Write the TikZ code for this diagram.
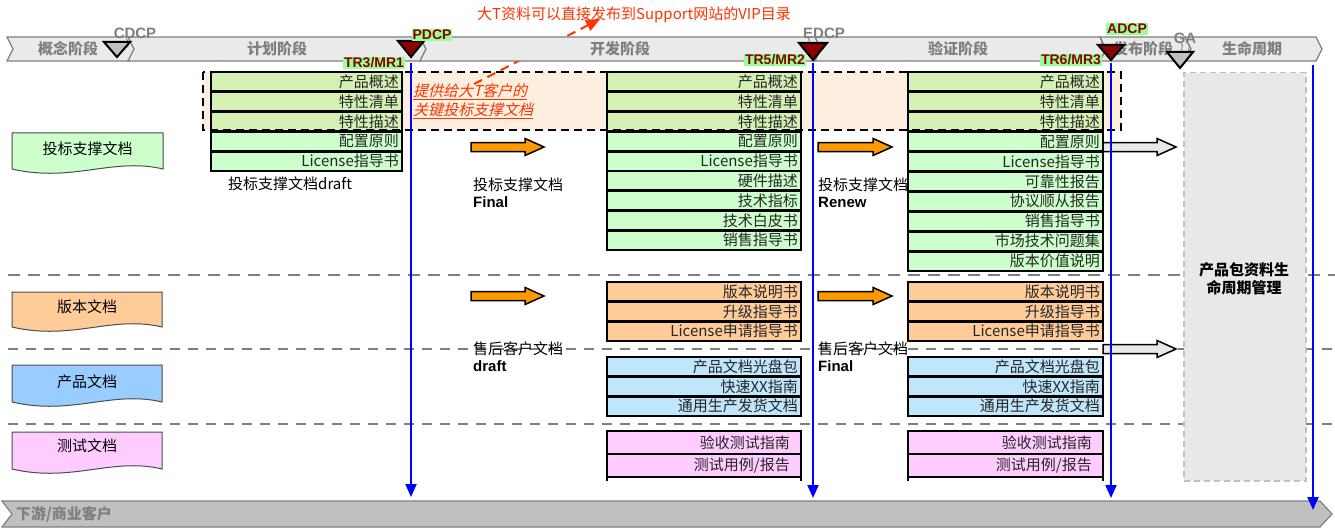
\documentclass[tikz,border=0pt]{standalone}
\usepackage{fontspec}
\setmainfont{Noto Sans CJK SC}
\newfontfamily\lat{Liberation Sans}
\newfontfamily\cjkit[FakeSlant=0.25]{Noto Sans CJK SC}
\usetikzlibrary{arrows.meta}
\definecolor{phasefill}{HTML}{EAEAEA}
\definecolor{phaseline}{HTML}{808080}
\definecolor{phasetext}{HTML}{7F7F7F}
\definecolor{dred}{HTML}{8B0000}
\definecolor{mkgreen}{HTML}{99FF99}
\definecolor{hlbg}{HTML}{FDEFDF}
\definecolor{tint}{HTML}{D5F0B3}
\definecolor{lgreen}{HTML}{CCFFCC}
\definecolor{lorange}{HTML}{FFCC99}
\definecolor{lblue}{HTML}{BFE6FB}
\definecolor{dblue}{HTML}{99CCFF}
\definecolor{lpink}{HTML}{FFCCFF}
\definecolor{arrorange}{HTML}{FF9900}
\definecolor{redtxt}{HTML}{FF3300}
\definecolor{lifegray}{HTML}{E8E8E8}
\definecolor{lifeline}{HTML}{C0C0C0}
\definecolor{barbottom}{HTML}{C0C0C0}
\definecolor{sepgray}{HTML}{808080}
\definecolor{bluel}{HTML}{0000FF}
\newcommand\fsz{\fontsize{15}{18}\selectfont}
\newcommand\fsm{\fontsize{14}{16}\selectfont}
\newcommand\fsg{\fontsize{15}{17}\selectfont}
\tikzset{
  sepline/.style={draw=sepgray, line width=2.5pt, dash pattern=on 12pt off 8pt},
  hlfill/.style={fill=hlbg},
  hlborder/.style={draw=black, line width=2pt, dash pattern=on 8pt off 5pt},
  docrow/.style={draw=black, line width=2.8pt, inner sep=0pt, outer sep=0pt},
  rowtext/.style={anchor=east, inner sep=0pt, font=\fsz, text=black!85},
  docshape/.style={draw=black!70, line width=1pt},
  doclabel/.style={inner sep=0pt, font=\fsz},
  plaintext/.style={inner sep=0pt, font=\fsz},
  boldlat/.style={inner sep=0pt, font=\lat\bfseries\fsg},
  phase/.style={fill=phasefill, draw=phaseline, line width=1.2pt},
  phasetxt/.style={inner sep=0pt, text=phasetext, font=\bfseries\fsz},
  tri/.style={draw=black, line width=2pt, line join=miter},
  mk/.style={fill=mkgreen, text=dred, font=\lat\bfseries\fsm, inner sep=1pt},
  mkgray/.style={text=phasetext, font=\lat\bfseries\fsg, inner sep=0pt},
  squig/.style={draw=phaseline, line width=0.8pt},
  blueline/.style={draw=bluel, line width=2pt, -{Triangle[width=11pt,length=13pt]}},
  reddash/.style={draw=redtxt, line width=2pt, dash pattern=on 9pt off 6pt, -{Triangle[width=12pt,length=14pt]}},
  orarrow/.style={fill=arrorange, draw=black, line width=1.5pt},
  grarrow/.style={fill=lifegray, draw=black, line width=1.5pt},
  lifebox/.style={fill=lifegray, draw=lifeline, line width=1.5pt, dash pattern=on 6pt off 4pt, inner sep=0pt},
  bar/.style={fill=barbottom, draw=phaseline, line width=1.2pt},
  redtext/.style={text=redtxt, inner sep=0pt, font=\fsz},
  hltext/.style={text=redtxt, inner sep=0pt, font=\cjkit\fsz},
}
% name, x0, x1, ytop, rowh, ntint, fill, padding, list
\newcommand\docstack[9]{%
  \foreach \t [count=\i from 0] in {#9} {
    \pgfmathsetmacro\ya{#4+\i*#5}
    \ifnum\i<#6 \def\fc{tint}\else\def\fc{#7}\fi
    \node[docrow, fill=\fc, minimum width={#3-#2}, minimum height=#5, anchor=north west] (#1\i) at (#2,\ya) {};
    \node[rowtext] (#1t\i) at ([xshift=-#8pt]#1\i.east) {\t};
  }}
% name, x0, x1, ytop, ybot, fill, text, label y
\newcommand\docshape[8]{%
  \draw[docshape, fill=#6] (#2,#4) -- (#3,#4) -- (#3,#5) .. controls ({#3-50},{#5-12}) and ({#2+60},{#5+14}) .. (#2,#5) -- cycle;
  \node[doclabel] (#1) at ({(#2+#3)/2},#8) {#7};}
\newcommand\chev[2]{%
  \draw[phase] (#1,37) -- ({#2-6},37) -- (#2,49) -- ({#2-6},61) -- (#1,61) -- ({#1+6},49) -- cycle;}
\newcommand\barrow[5]{%
  \draw[#5] (#1,{#4-4.5}) -- (#2,{#4-4.5}) -- (#2,{#4-8.5}) -- (#3,#4) -- (#2,{#4+8.5}) -- (#2,{#4+4.5}) -- (#1,{#4+4.5}) -- cycle;}
\begin{document}
\begin{tikzpicture}[x=1pt,y=-1pt]
\useasboundingbox (0,0) rectangle (1335,532);
\fill[white] (0,0) rectangle (1335,532);
% separators
\draw[sepline] (8,275) -- (1335,275);
\draw[sepline, line width=2pt, dash pattern=on 10pt off 8pt] (8,349) -- (1335,349);
\draw[sepline, line width=2pt, dash pattern=on 10pt off 8pt] (8,424) -- (1335,424);
% highlight box
\fill[hlfill] (203,72) rectangle (1121,130);
% left document shapes
\docshape{dA}{12}{163}{133}{169}{lgreen}{投标支撑文档}{149}
\docshape{dB}{12}{162}{292}{327}{lorange}{版本文档}{307}
\docshape{dC}{12}{162}{365}{402}{dblue}{产品文档}{382}
\docshape{dD}{12}{162}{432}{469}{lpink}{测试文档}{446}
% stacks
\docstack{ca}{211}{402}{72}{19.8}{3}{lgreen}{3}{产品概述,特性清单,特性描述,配置原则,License指导书}
\docstack{cb}{607}{801}{72}{19.78}{3}{lgreen}{3}{产品概述,特性清单,特性描述,配置原则,License指导书,硬件描述,技术指标,技术白皮书,销售指导书}
\docstack{cc}{908}{1103}{72}{19.9}{3}{lgreen}{3}{产品概述,特性清单,特性描述,配置原则,License指导书,可靠性报告,协议顺从报告,销售指导书,市场技术问题集,版本价值说明}
\docstack{oa}{607}{801}{282}{19.67}{0}{lorange}{3}{版本说明书,升级指导书,License申请指导书}
\docstack{ob}{908}{1103}{282}{19.67}{0}{lorange}{3}{版本说明书,升级指导书,License申请指导书}
\docstack{ba}{607}{801}{357}{19.67}{0}{lblue}{3}{产品文档光盘包,快速XX指南,通用生产发货文档}
\docstack{bb}{908}{1103}{357}{19.67}{0}{lblue}{3}{产品文档光盘包,快速XX指南,通用生产发货文档}
\docstack{pa}{607}{801}{431}{23}{0}{lpink}{11}{验收测试指南,测试用例/报告}
\docstack{pb}{908}{1103}{431}{23}{0}{lpink}{11}{验收测试指南,测试用例/报告}
\draw[line width=2.8pt] (607,481) -- (607,477) -- (801,477) -- (801,481);
\draw[line width=2.8pt] (908,481) -- (908,477) -- (1103,477) -- (1103,481);
% highlight border
\draw[hlborder] (203,72) rectangle (1121,130);
\node[hltext, anchor=west] (hl1) at (413,92) {\underline{提供给大T客户的}};
\node[hltext, anchor=west] (hl2) at (413,111) {\underline{关键投标支撑文档}};
% lifecycle box
\node[lifebox, minimum width=122, minimum height=408, anchor=north west] (life) at (1183,72) {};
\node[inner sep=0pt, font=\bfseries\fsz, align=center] (lifet) at (1244,279) {产品包资料生\\命周期管理};
% labels
\node[plaintext, anchor=west] (dr1) at (228,184) {投标支撑文档draft};
\node[plaintext, anchor=west] (f1) at (473,185) {投标支撑文档};
\node[boldlat, anchor=west] (f1b) at (473,202) {Final};
\node[plaintext, anchor=west] (r1) at (818,185) {投标支撑文档};
\node[boldlat, anchor=west] (r1b) at (818,202) {Renew};
\node[plaintext, anchor=west] (s1) at (473,349) {售后客户文档};
\node[boldlat, anchor=west] (s1b) at (473,366) {draft};
\node[plaintext, anchor=west] (s2) at (818,349) {售后客户文档};
\node[boldlat, anchor=west] (s2b) at (818,366) {Final};
% block arrows
\barrow{471}{525}{544}{147}{orarrow}
\barrow{471}{525}{544}{296}{orarrow}
\barrow{818}{873}{892}{147}{orarrow}
\barrow{818}{873}{892}{296}{orarrow}
\barrow{1103}{1157}{1176}{147}{grarrow}
\barrow{1103}{1157}{1176}{349}{grarrow}
% bottom bar
\draw[bar] (2,501) -- (1320,501) -- (1332,514) -- (1320,527) -- (2,527) -- (12,514) -- cycle;
\node[phasetxt, anchor=west] (down) at (16,514) {下游/商业客户};
% blue lines
\coordinate (b1s) at (411,63); \coordinate (b1e) at (411,497);
\coordinate (b2s) at (813,63); \coordinate (b2e) at (813,498);
\coordinate (b3s) at (1111,63); \coordinate (b3e) at (1111,498);
\coordinate (b4s) at (1313,65); \coordinate (b4e) at (1313,510);
\draw[blueline] (b1s) -- (b1e);
\draw[blueline] (b2s) -- (b2e);
\draw[blueline] (b3s) -- (b3e);
\draw[blueline] (b4s) -- (b4e);
% red dashed arrow
\coordinate (ra) at (474,84); \coordinate (rb) at (600,19);
\draw[reddash] (ra) -- (rb);
\node[redtext] (vip) at (634,15) {大T资料可以直接发布到Support网站的VIP目录};
% phase bar
\chev{7}{135}
\chev{128}{426}
\chev{420}{821}
\chev{815}{1106}
\chev{1100}{1191}
\chev{1185}{1322}
\node[phasetxt] (p1) at (68,49) {概念阶段};
\node[phasetxt] (p2) at (277,49) {计划阶段};
\node[phasetxt] (p3) at (620,49) {开发阶段};
\node[phasetxt] (p4) at (958,49) {验证阶段};
\node[phasetxt] (p5) at (1143,49) {发布阶段};
\node[phasetxt] (p6) at (1252,49) {生命周期};
% squiggles
\draw[squig] (126,39) .. controls (131,41) and (124,44) .. (128,47);
\draw[squig] (808,38) .. controls (812,41) and (806,43) .. (811,46);
\draw[squig] (1100,37) .. controls (1104,40) and (1099,43) .. (1104,46);
\draw[squig] (1181,43) .. controls (1185,46) and (1179,49) .. (1183,53);
\draw[squig] (1188,43) .. controls (1192,46) and (1186,49) .. (1190,53);
% milestone triangles
\draw[tri, fill=barbottom] (104,42) -- (130,42) -- (117,57) -- cycle;
\draw[tri, fill=dred] (398,41) -- (424,41) -- (411,57) -- cycle;
\draw[tri, fill=dred] (799,43) -- (827,43) -- (813,60) -- cycle;
\draw[tri, fill=dred] (1098,45) -- (1124,45) -- (1111,60) -- cycle;
\draw[tri, fill=barbottom] (1167,52) -- (1193,52) -- (1180,68) -- cycle;
% milestone labels
\node[mkgray] (cdcp) at (135,33) {CDCP};
\node[mk] (pdcp) at (432,35) {PDCP};
\node[mk] (tr3) at (374,63) {TR3/MR1};
\node[mkgray] (edcp) at (824,33) {EDCP};
\node[mk] (tr5) at (775,60) {TR5/MR2};
\node[mk] (adcp) at (1127,29) {ADCP};
\node[mk] (tr6) at (1071,60) {TR6/MR3};
\node[mkgray] (ga) at (1185,38) {GA};
\end{tikzpicture}
\end{document}
